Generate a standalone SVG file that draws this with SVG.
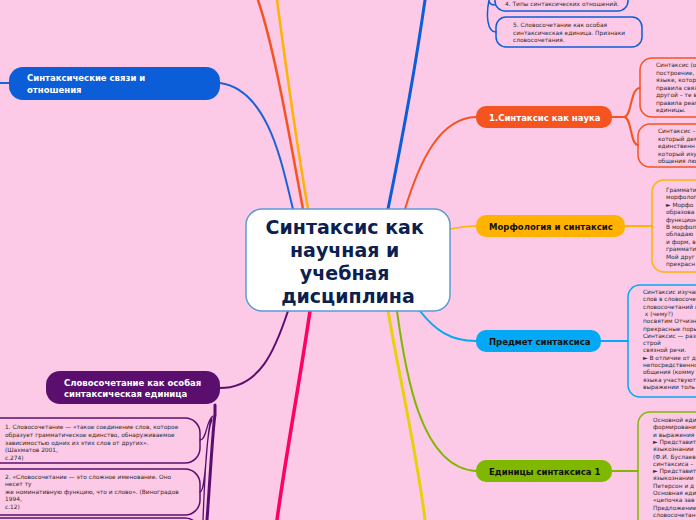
<svg xmlns="http://www.w3.org/2000/svg" width="696" height="520" viewBox="0 0 696 520">
<style>
.t{font-family:"DejaVu Sans","Liberation Sans",sans-serif;}
.nt{font-family:"DejaVu Sans","Liberation Sans",sans-serif;font-weight:bold;font-size:8.5px;}
.lt{font-family:"DejaVu Sans","Liberation Sans",sans-serif;font-size:5.9px;fill:#2e2e2e;}
.c{fill:none;stroke-linecap:round;}
.leaf{fill:none;stroke-width:1.5;}
</style>
<rect x="0" y="0" width="696" height="520" fill="#fcc9e6"/>
<g id="connectors">
<path class="c" d="M293,209 C283,170 270,90 220,83" stroke="#1a62d6" stroke-width="2"/>
<path class="c" d="M0,83 L10,83" stroke="#1a62d6" stroke-width="2"/>
<path class="c" d="M303,209 C290,140 275,50 258,0" stroke="#f55420" stroke-width="2.5"/>
<path class="c" d="M308,209 C296,140 285,60 277,0" stroke="#ffb300" stroke-width="2.5"/>
<path class="c" d="M388,209 C400,150 415,70 425,0" stroke="#0b5ed7" stroke-width="3"/>
<path class="c" d="M405,209 C420,160 440,118 476,117" stroke="#f55420" stroke-width="2"/>
<path class="c" d="M450,229 C460,227 465,226 476,226" stroke="#ffb300" stroke-width="1.5"/>
<path class="c" d="M420,311 C435,330 450,341 476,341" stroke="#03a9f4" stroke-width="2"/>
<path class="c" d="M397,311 C405,370 420,468 476,471" stroke="#80b800" stroke-width="2"/>
<path class="c" d="M388,311 C400,380 418,460 425,520" stroke="#e6d20a" stroke-width="3"/>
<path class="c" d="M310,311 C300,380 285,460 277,520" stroke="#ff0066" stroke-width="3.5"/>
<path class="c" d="M288,311 C275,350 260,388 220,388" stroke="#5a0f6e" stroke-width="2"/>
<path class="c" d="M612,117 L624,117 C632,117 630,88 640,88 M624,117 C632,117 630,145 638,145" stroke="#f55420" stroke-width="2"/>
<path class="c" d="M625,226 L652,226" stroke="#ffb300" stroke-width="2"/>
<path class="c" d="M601,341 L628,341" stroke="#03a9f4" stroke-width="2"/>
<path class="c" d="M612,471 L638,471" stroke="#80b800" stroke-width="2"/>
<path class="c" d="M489,0 C489,4 491,5 495,5 M489,0 C486,15 487,32 496,32" stroke="#0b5ed7" stroke-width="1.5"/>
<path class="c" d="M215,405 L215,415 C213,425 210,480 207,520" stroke="#5a0f6e" stroke-width="3"/>
<path class="c" d="M200,440 C207,440 206,420 213,416 M200,492 C207,492 206,422 212,418 M203,520 C205,470 207,430 212,420" stroke="#5a0f6e" stroke-width="1.3"/>
</g>
<g id="center">
<rect x="246" y="209" width="204" height="102" rx="16" fill="#ffffff" stroke="#5b9bd5" stroke-width="1.5"/>
<text class="t" font-weight="bold" font-size="19" fill="#0d1f4f" text-anchor="middle">
<tspan x="348" y="234">Синтаксис как</tspan>
<tspan x="348" y="257">научная и</tspan>
<tspan x="348" y="280">учебная</tspan>
<tspan x="348" y="303">дисциплина</tspan>
</text>
</g>
<g id="n-svyazi">
<rect x="9" y="67" width="211" height="33" rx="14" fill="#0b5ed7"/>
<text class="nt" fill="#ffffff"><tspan x="27" y="81">Синтаксические связи и</tspan><tspan x="27" y="93">отношения</tspan></text>
</g>
<g id="n-slovosoch">
<rect x="46" y="371" width="174" height="33" rx="14" fill="#5a0f6e"/>
<text class="nt" fill="#ffffff"><tspan x="64" y="386">Словосочетание как особая</tspan><tspan x="64" y="397">синтаксическая единица</tspan></text>
</g>
<g id="n-nauka">
<rect x="476" y="106" width="136" height="22" rx="10" fill="#f55420"/>
<text class="nt" fill="#ffffff" x="489" y="120.5">1.Синтаксис как наука</text>
</g>
<g id="n-morf">
<rect x="476" y="215" width="149" height="22" rx="10" fill="#ffb300"/>
<text class="nt" fill="#111111" x="489" y="229.5">Морфология и синтаксис</text>
</g>
<g id="n-predmet">
<rect x="476" y="330" width="125" height="22" rx="10" fill="#03a9f4"/>
<text class="nt" fill="#111111" x="489" y="344.5">Предмет синтаксиса</text>
</g>
<g id="n-edinicy">
<rect x="476" y="460" width="136" height="22" rx="10" fill="#80b800"/>
<text class="nt" fill="#111111" x="489" y="474.5">Единицы синтаксиса 1</text>
</g>
<g id="leaf-4">
<rect class="leaf" x="495" y="-20" width="133" height="31" rx="10" stroke="#0b5ed7"/>
<text class="lt" x="505" y="6">4. Типы синтаксических отношений.</text>
</g>
<g id="leaf-5">
<rect class="leaf" x="496" y="17" width="146" height="30" rx="10" stroke="#0b5ed7"/>
<text class="lt"><tspan x="513" y="27">5. Словосочетание как особая</tspan><tspan x="513" y="34.5">синтаксическая единица. Признаки</tspan><tspan x="513" y="42">словосочетания.</tspan></text>
</g>
<g id="leaf-nauka-1">
<rect class="leaf" x="640" y="58" width="120" height="59" rx="12" stroke="#f55420"/>
<text class="lt"><tspan x="656" y="67">Синтаксис (от</tspan><tspan x="656" y="74.5">построение, с</tspan><tspan x="656" y="82">языке, котор</tspan><tspan x="656" y="89.5">правила связ</tspan><tspan x="656" y="97">другой – те в</tspan><tspan x="656" y="104.5">правила реаг</tspan><tspan x="656" y="112">единицы.</tspan></text>
</g>
<g id="leaf-nauka-2">
<rect class="leaf" x="638" y="124" width="120" height="43" rx="12" stroke="#f55420"/>
<text class="lt"><tspan x="658" y="133">Синтаксис –</tspan><tspan x="658" y="140.5">который дем</tspan><tspan x="658" y="148">единственн</tspan><tspan x="658" y="155.5">который изу</tspan><tspan x="658" y="163">общения лю</tspan></text>
</g>
<g id="leaf-morf">
<rect class="leaf" x="652" y="180" width="120" height="92" rx="12" stroke="#ffb300"/>
<text class="lt"><tspan x="666" y="192">Граммати</tspan><tspan x="666" y="199.4">морфолог</tspan><tspan x="666" y="206.8">► Морфо</tspan><tspan x="666" y="214.2">образова</tspan><tspan x="666" y="221.6">функцион</tspan><tspan x="666" y="229">В морфол</tspan><tspan x="666" y="236.4">обладаю</tspan><tspan x="666" y="243.8">и форм, в</tspan><tspan x="666" y="251.2">граммати</tspan><tspan x="666" y="258.6">Мой друг</tspan><tspan x="666" y="266">прекрасн</tspan></text>
</g>
<g id="leaf-predmet">
<rect class="leaf" x="628" y="285" width="120" height="112" rx="12" stroke="#03a9f4"/>
<text class="lt"><tspan x="643" y="294">Синтаксис изучан</tspan><tspan x="643" y="301.3">слов в словосоче</tspan><tspan x="643" y="308.6">словосочетаний и</tspan><tspan x="643" y="315.9"> x (чему?)</tspan><tspan x="643" y="323.2">посвятим Отчизн</tspan><tspan x="643" y="330.5">прекрасные поры</tspan><tspan x="643" y="337.8">Синтаксис — раз</tspan><tspan x="643" y="345.1">строй</tspan><tspan x="643" y="352.4">связной речи.</tspan><tspan x="643" y="359.7">► В отличие от д</tspan><tspan x="643" y="367">непосредственно</tspan><tspan x="643" y="374.3">общения (комму</tspan><tspan x="643" y="381.6">языка участвуют</tspan><tspan x="643" y="388.9">выражении толь</tspan></text>
</g>
<g id="leaf-edinicy">
<rect class="leaf" x="638" y="412" width="120" height="130" rx="12" stroke="#80b800"/>
<text class="lt"><tspan x="653" y="422">Основной еди</tspan><tspan x="653" y="429.3">формировани</tspan><tspan x="653" y="436.6">и выражения</tspan><tspan x="653" y="443.9">► Представит</tspan><tspan x="653" y="451.2">языкознании</tspan><tspan x="653" y="458.5">(Ф.И. Буслаев</tspan><tspan x="653" y="465.8">синтаксиса –</tspan><tspan x="653" y="473.1">► Представит</tspan><tspan x="653" y="480.4">языкознании</tspan><tspan x="653" y="487.7">Петерсон и д</tspan><tspan x="653" y="495">Основная еди</tspan><tspan x="653" y="502.3">«цепочка зав</tspan><tspan x="653" y="509.6">Предложение</tspan><tspan x="653" y="516.9">словосочетан</tspan></text>
</g>
<g id="leaf-sl-1">
<rect class="leaf" x="-20" y="418" width="220" height="45" rx="15" stroke="#5a0f6e"/>
<text class="lt"><tspan x="5" y="429">1. Словосочетание — «такое соединение слов, которое</tspan><tspan x="5" y="437">образует грамматическое единство, обнаруживаемое</tspan><tspan x="5" y="445">зависимостью одних из этих слов от других».</tspan><tspan x="5" y="452">(Шахматов 2001,</tspan><tspan x="5" y="459.5">с.274)</tspan></text>
</g>
<g id="leaf-sl-2">
<rect class="leaf" x="-20" y="469" width="220" height="46" rx="15" stroke="#5a0f6e"/>
<text class="lt"><tspan x="5" y="479">2. «Словосочетание — это сложное именование. Оно</tspan><tspan x="5" y="486">несет ту</tspan><tspan x="5" y="493.5">же номинативную функцию, что и слово». (Виноградов</tspan><tspan x="5" y="501">1994,</tspan><tspan x="5" y="508.5">с.12)</tspan></text>
</g>
<g id="leaf-sl-3">
<rect class="leaf" x="-20" y="518" width="220" height="40" rx="15" stroke="#5a0f6e"/>
</g>
</svg>
